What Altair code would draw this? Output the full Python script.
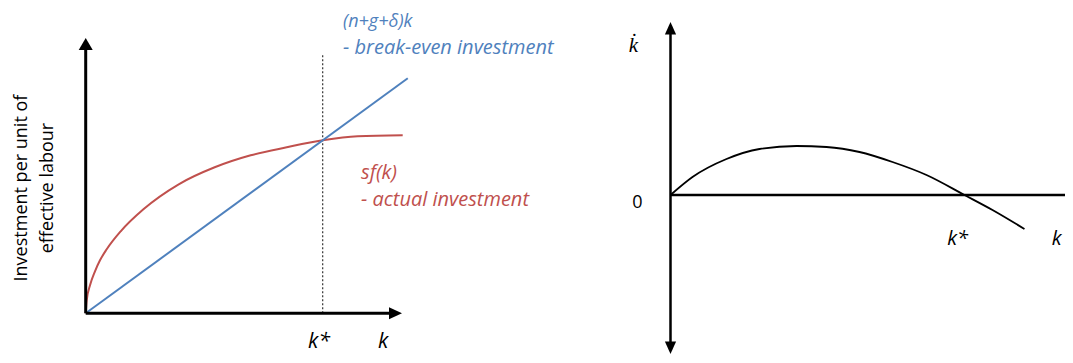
import altair as alt
import pandas as pd

# ---------------- data (left panel: investment diagram) ----------------
k_sf = [0, 0.032, 0.136, 0.293, 0.451, 0.662, 1.104, 1.820, 2.934, 4.069, 5.205, 6.341, 7.476, 8.580, 10.0]
sf_vals = [0, 0.446, 0.961, 1.442, 1.819, 2.197, 2.815, 3.570, 4.428, 5.012, 5.424, 5.699, 5.939, 6.076, 6.110]
k_be = [0, 10.16]
be_vals = [0, 8.07]
k_star_left = 7.476
dotted_top = 8.93

# ---------------- data (right panel: phase diagram) ----------------
k_dot_k = [0, 0.55, 1.4, 2.225, 3.15, 3.9, 4.725, 5.55, 6.4, 7.35, 8.05, 8.85]
k_dot_vals = [0, 0.45, 0.9, 1.15, 1.225, 1.2, 1.075, 0.825, 0.5, 0, -0.375, -0.85]

# ---------------- layout ----------------
W, H = 1057, 347          # canvas (page offset 8px)
M = 8
# panel 1: page origin and px per unit
P1_X0, P1_Y0, P1_SX, P1_SY = 85.7, 313.3, 31.7, 29.13
# panel 2
P2_X0, P2_Y0, P2_SX, P2_SY = 670.5, 195.0, 40.0, 40.0


def scales(x0, y0, sx, sy):
    cx0 = x0 - M
    cy0 = y0 - M
    xs = alt.Scale(domain=[-cx0 / sx, (W - cx0) / sx], nice=False, zero=False)
    ys = alt.Scale(domain=[-(H - cy0) / sy, cy0 / sy], nice=False, zero=False)
    return xs, ys


sx1, sy1 = scales(P1_X0, P1_Y0, P1_SX, P1_SY)
sx2, sy2 = scales(P2_X0, P2_Y0, P2_SX, P2_SY)

BLUE = "#4F81BD"
RED = "#C0504D"
FONT = "Open Sans"


def seg(xs, ys, x, y, x2, y2, width=3, color="black", dash=None):
    df = pd.DataFrame({"x": [x], "y": [y], "x2": [x2], "y2": [y2]})
    kw = dict(color=color, strokeWidth=width, strokeCap="butt")
    if dash:
        kw["strokeDash"] = dash
    return alt.Chart(df).mark_rule(**kw).encode(
        x=alt.X("x:Q", scale=xs, axis=None),
        y=alt.Y("y:Q", scale=ys, axis=None),
        x2="x2:Q",
        y2="y2:Q",
    )


def arrow(xs, ys, x, y, path):
    df = pd.DataFrame({"x": [x], "y": [y]})
    return alt.Chart(df).mark_point(
        shape=path, size=196, filled=True, fill="black", opacity=1, strokeWidth=0
    ).encode(
        x=alt.X("x:Q", scale=xs, axis=None),
        y=alt.Y("y:Q", scale=ys, axis=None),
    )


def label(xs, ys, x, y, text, color="black", size=20, italic=True, align="left",
          angle=0, font=FONT, baseline="middle"):
    df = pd.DataFrame({"x": [x], "y": [y], "t": [text]})
    kw = dict(align=align, baseline=baseline, fontSize=size, font=font, color=color)
    if italic:
        kw["fontStyle"] = "italic"
    if angle:
        kw["angle"] = angle
    return alt.Chart(df).mark_text(**kw).encode(
        x=alt.X("x:Q", scale=xs, axis=None),
        y=alt.Y("y:Q", scale=ys, axis=None),
        text="t:N",
    )


def curve(xs, ys, kx, kv, color, width=2):
    df = pd.DataFrame({"k": kx, "v": kv, "o": list(range(len(kx)))})
    return alt.Chart(df).mark_line(color=color, strokeWidth=width, interpolate="monotone").encode(
        x=alt.X("k:Q", scale=xs, axis=None),
        y=alt.Y("v:Q", scale=ys, axis=None),
        order="o:Q",
    )


UP1 = "M0,0L-1,1.714L1,1.714Z"
RIGHT1 = "M0,0L-1.857,-0.857L-1.857,0.857Z"
UP2 = "M0,0L-0.8,1.8L0.8,1.8Z"
DOWN2 = "M0,0L-0.8,-1.8L0.8,-1.8Z"
RIGHT2 = "M0,0L-1.8,-0.8L-1.8,0.8Z"

KBASE1 = -1.19   # alphabetic baseline for bottom k labels (left panel)

panel1 = alt.layer(
    seg(sx1, sy1, k_star_left, 0, k_star_left, dotted_top, width=1.2, color="#333333", dash=[2, 2]),
    curve(sx1, sy1, k_sf, sf_vals, RED),
    curve(sx1, sy1, k_be, be_vals, BLUE),
    seg(sx1, sy1, 0, 0, 0, 9.1),
    seg(sx1, sy1, 0, 0, 9.6, 0),
    arrow(sx1, sy1, 0, 9.451, UP1),
    arrow(sx1, sy1, 9.978, 0, RIGHT1),
    label(sx1, sy1, 8.117, 10.0, "(n+g+δ)k", color=BLUE, size=18),
    label(sx1, sy1, 8.117, 9.108, "- break-even investment", color=BLUE),
    label(sx1, sy1, 8.685, 4.816, "sf(k)", color=RED),
    label(sx1, sy1, 8.685, 3.889, "- actual investment", color=RED),
    label(sx1, sy1, 7.36, KBASE1, "k*", align="center", size=21, baseline="alphabetic"),
    label(sx1, sy1, 9.379, KBASE1, "k", align="center", size=21, baseline="alphabetic"),
    label(sx1, sy1, -2.00, 4.30, "Investment per unit of", italic=False, align="center", angle=270, size=18),
    label(sx1, sy1, -1.20, 4.30, "effective labour", italic=False, align="center", angle=270, size=18),
)

panel2 = alt.layer(
    curve(sx2, sy2, k_dot_k, k_dot_vals, "black", width=1.8),
    seg(sx2, sy2, 0, -3.7, 0, 4.05, width=2.5),
    seg(sx2, sy2, 0, 0, 9.95, 0, width=2.5),
    arrow(sx2, sy2, 0, 4.325, UP2),
    arrow(sx2, sy2, 0, -3.975, DOWN2),
    arrow(sx2, sy2, 10.24, 0, RIGHT2),
    label(sx2, sy2, -0.925, 3.725, "k̇", align="center", size=21, font="Liberation Serif"),
    label(sx2, sy2, -0.825, -0.2, "0", italic=False, align="center", size=18),
    label(sx2, sy2, 7.175, -1.1, "k*", align="center", size=20),
    label(sx2, sy2, 9.655, -1.1, "k", align="center", size=20),
)

chart = alt.layer(panel1, panel2).resolve_scale(
    x="independent", y="independent"
).properties(
    width=W, height=H, padding=0, autosize=alt.AutoSizeParams(type="none")
).configure_view(stroke="transparent")

chart.save("out.html", embed_options={"renderer": "svg", "actions": False})
